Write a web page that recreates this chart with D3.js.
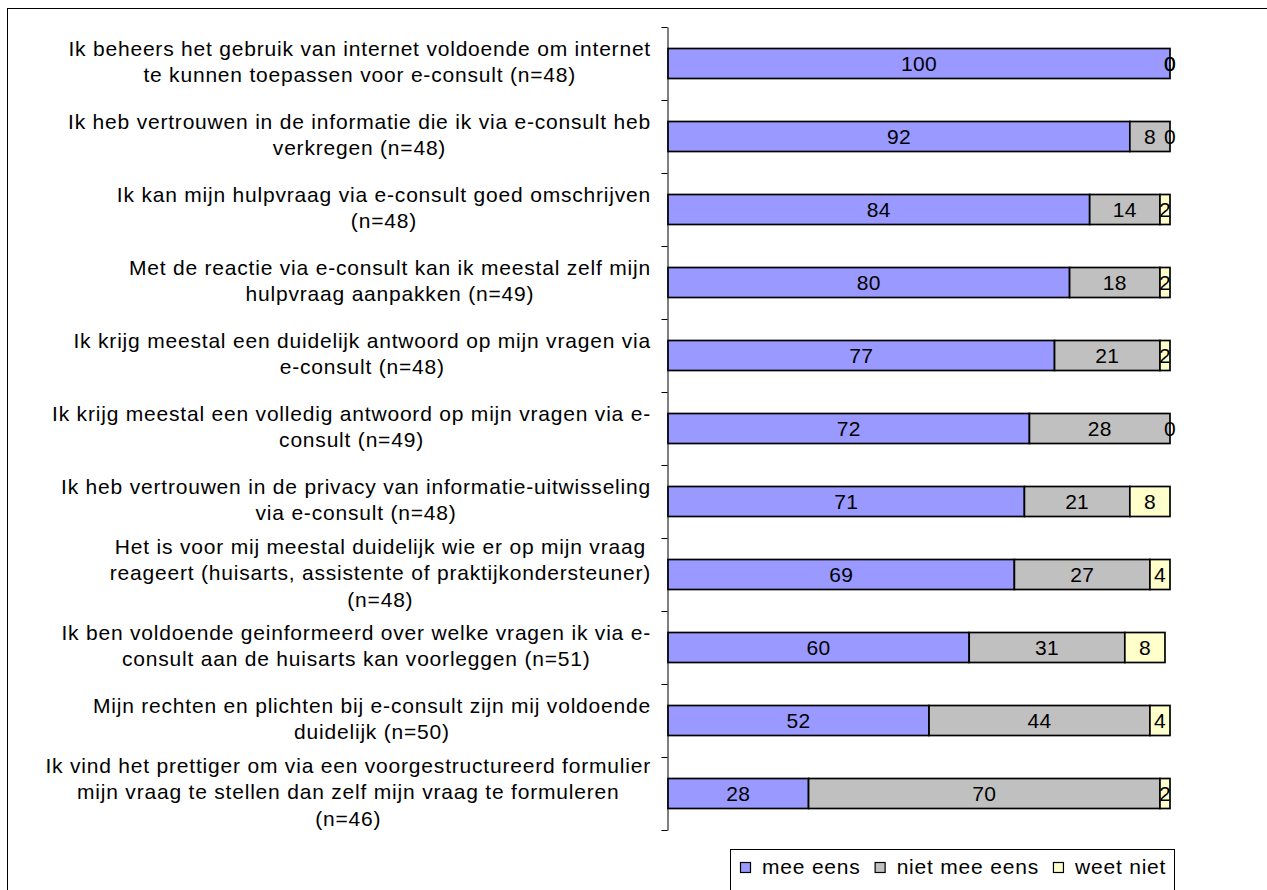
<!DOCTYPE html>
<html>
<head>
<meta charset="utf-8">
<script src="https://cdn.jsdelivr.net/npm/d3@7"></script>
<style>
  html, body { margin: 0; padding: 0; background: #fff; }
  svg { display: block; font-family: "Liberation Sans", Arial, sans-serif; }
</style>
</head>
<body>
<svg id="chart" width="1267" height="890"></svg>
<script>
const categories = [
  ["Ik beheers het gebruik van internet voldoende om internet", "te kunnen toepassen voor e-consult (n=48)"],
  ["Ik heb vertrouwen in de informatie die ik via e-consult heb", "verkregen (n=48)"],
  ["Ik kan mijn hulpvraag via e-consult goed omschrijven", "(n=48)"],
  ["Met de reactie via e-consult kan ik meestal zelf mijn", "hulpvraag aanpakken (n=49)"],
  ["Ik krijg meestal een duidelijk antwoord op mijn vragen via", "e-consult (n=48)"],
  ["Ik krijg meestal een volledig antwoord op mijn vragen via e-", "consult (n=49)"],
  ["Ik heb vertrouwen in de privacy van informatie-uitwisseling", "via e-consult (n=48)"],
  ["Het is voor mij meestal duidelijk wie er op mijn vraag", "reageert (huisarts, assistente of praktijkondersteuner)", "(n=48)"],
  ["Ik ben voldoende geinformeerd over welke vragen ik via e-", "consult aan de huisarts kan voorleggen (n=51)"],
  ["Mijn rechten en plichten bij e-consult zijn mij voldoende", "duidelijk (n=50)"],
  ["Ik vind het prettiger om via een voorgestructureerd formulier", "mijn vraag te stellen dan zelf mijn vraag te formuleren", "(n=46)"]
];
const meeEens     = [100, 92, 84, 80, 77, 72, 71, 69, 60, 52, 28];
const nietMeeEens = [0, 8, 14, 18, 21, 28, 21, 27, 31, 44, 70];
const weetNiet    = [0, 0, 2, 2, 2, 0, 8, 4, 8, 4, 2];
const seriesNames = ["mee eens", "niet mee eens", "weet niet"];
const seriesColors = ["#9999FF", "#C0C0C0", "#FFFFCC"];

(function () {
const svg = d3.select("#chart");
const FONT = 21, LS = 0.8;

// outer frame
svg.append("rect").attr("x", 7.5).attr("y", 8.5).attr("width", 1280).attr("height", 900)
  .attr("fill", "none").attr("stroke", "#000").attr("stroke-width", 1);

const n = categories.length;
const plotTop = 27, plotBottom = 830;
const rows = d3.range(n).map(i => ({
  i, "mee eens": meeEens[i], "niet mee eens": nietMeeEens[i], "weet niet": weetNiet[i]
}));

const x = d3.scaleLinear().domain([0, 100]).range([668, 1170]);
const y = d3.scaleBand().domain(d3.range(n)).range([plotTop, plotBottom])
  .paddingInner(0.589).paddingOuter(0.2945);
const yEdge = d3.scaleLinear().domain([0, n]).range([plotTop, plotBottom]);

// axis with ticks at category boundaries
const axis = d3.axisLeft(yEdge).tickValues(d3.range(n + 1)).tickSize(6).tickSizeOuter(0).tickFormat("");
const gAxis = svg.append("g").attr("transform", "translate(667.5,0)").call(axis);
gAxis.select(".domain").attr("stroke", "#000").attr("stroke-width", 1);
gAxis.selectAll(".tick line").attr("stroke", "#000").attr("stroke-width", 1);

// stacked bars
const stack = d3.stack().keys(seriesNames)(rows);
const gBars = svg.append("g");
stack.forEach((layer, si) => {
  gBars.selectAll(null).data(layer).enter().append("rect")
    .attr("x", d => x(d[0]))
    .attr("y", d => y(d.data.i))
    .attr("width", d => x(d[1]) - x(d[0]))
    .attr("height", y.bandwidth())
    .attr("fill", seriesColors[si])
    .attr("stroke", "#000")
    .attr("stroke-width", 1.7);
});
// value labels
stack.forEach((layer, si) => {
  gBars.selectAll(null).data(layer).enter().append("text")
    .attr("x", d => (x(d[0]) + x(d[1])) / 2)
    .attr("y", d => y(d.data.i) + y.bandwidth() / 2)
    .attr("dy", "0.36em")
    .attr("text-anchor", "middle")
    .attr("font-size", FONT)
    .attr("letter-spacing", 0.3)
    .attr("fill", "#000")
    .text(d => d.data[seriesNames[si]]);
});

// category labels (multi-line, centered block, right edge at 651)
const lineH = 26.5;
const gLab = svg.append("g");
categories.forEach((lines, i) => {
  const cy = y(i) + y.bandwidth() / 2 - 2;
  const t = gLab.append("text").attr("font-size", FONT).attr("letter-spacing", LS)
    .attr("text-anchor", "middle").attr("fill", "#000");
  const spans = lines.map((ln, k) => t.append("tspan")
    .attr("y", cy + (k - (lines.length - 1) / 2) * lineH)
    .attr("dy", "0.36em")
    .text(ln));
  const maxW = d3.max(spans, s => s.node().getComputedTextLength());
  spans.forEach(s => s.attr("x", 651 - maxW / 2));
});

// legend
const lg = svg.append("g");
lg.append("rect").attr("x", 730.5).attr("y", 849.5).attr("width", 444).attr("height", 60)
  .attr("fill", "#fff").attr("stroke", "#000").attr("stroke-width", 1);
let cx = 740;
seriesNames.forEach((name, si) => {
  lg.append("rect").attr("x", cx + 0.5).attr("y", 862.5).attr("width", 10).attr("height", 10)
    .attr("fill", seriesColors[si]).attr("stroke", "#000").attr("stroke-width", 1.2);
  const tx = lg.append("text").attr("x", cx + 22).attr("y", 873.5)
    .attr("font-size", FONT).attr("letter-spacing", LS).attr("fill", "#000").text(name);
  cx = cx + 22 + tx.node().getComputedTextLength() + 14;
});
})();
</script>
</body>
</html>
